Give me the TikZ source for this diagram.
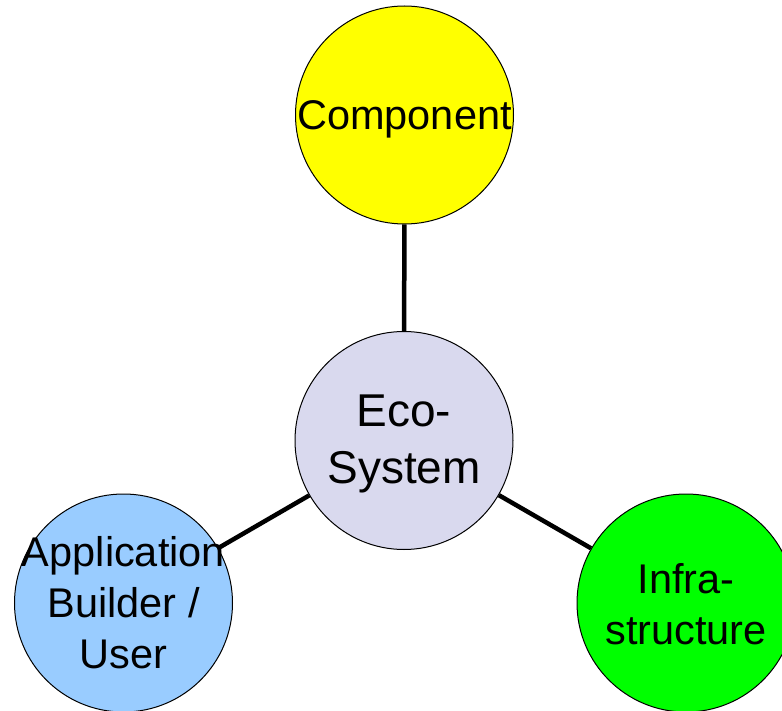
\documentclass[tikz,border=0pt]{standalone}
\usepackage{fontspec}
\setmainfont{Liberation Sans}
\definecolor{compcol}{HTML}{FFFF00}
\definecolor{ecocol}{HTML}{D9D9EE}
\definecolor{appcol}{HTML}{99CCFF}
\definecolor{infcol}{HTML}{00FF00}
\tikzset{
  bubble/.style={circle, draw=black, line width=1pt, minimum size=218pt, inner sep=0pt},
  btext/.style={align=center, inner sep=0pt, font=\fontsize{41.5}{51}\selectfont},
  link/.style={line width=4.5pt, draw=black}
}
\begin{document}
\begin{tikzpicture}[x=1pt,y=-1pt]
\useasboundingbox (0,0) rectangle (782,711);
\node[bubble, fill=compcol] (comp) at (404.5,115) {};
\node[btext] (compt) at (404.5,119.5) {Component};
\node[bubble, fill=ecocol] (eco) at (404,440.5) {};
\node[btext, font=\fontsize{46}{57}\selectfont] (ecot) at (404,443.5) {Eco-\\System};
\node[bubble, fill=appcol] (app) at (123.5,603) {};
\node[btext] (appt) at (123.5,603) {Application\\Builder /\\User};
\node[bubble, fill=infcol] (inf) at (686,603) {};
\node[btext] (inft) at (686,604) {Infra-\\structure};
\draw[link] (eco) -- (comp);
\draw[link] (eco) -- (app);
\draw[link] (eco) -- (inf);
\end{tikzpicture}
\end{document}
